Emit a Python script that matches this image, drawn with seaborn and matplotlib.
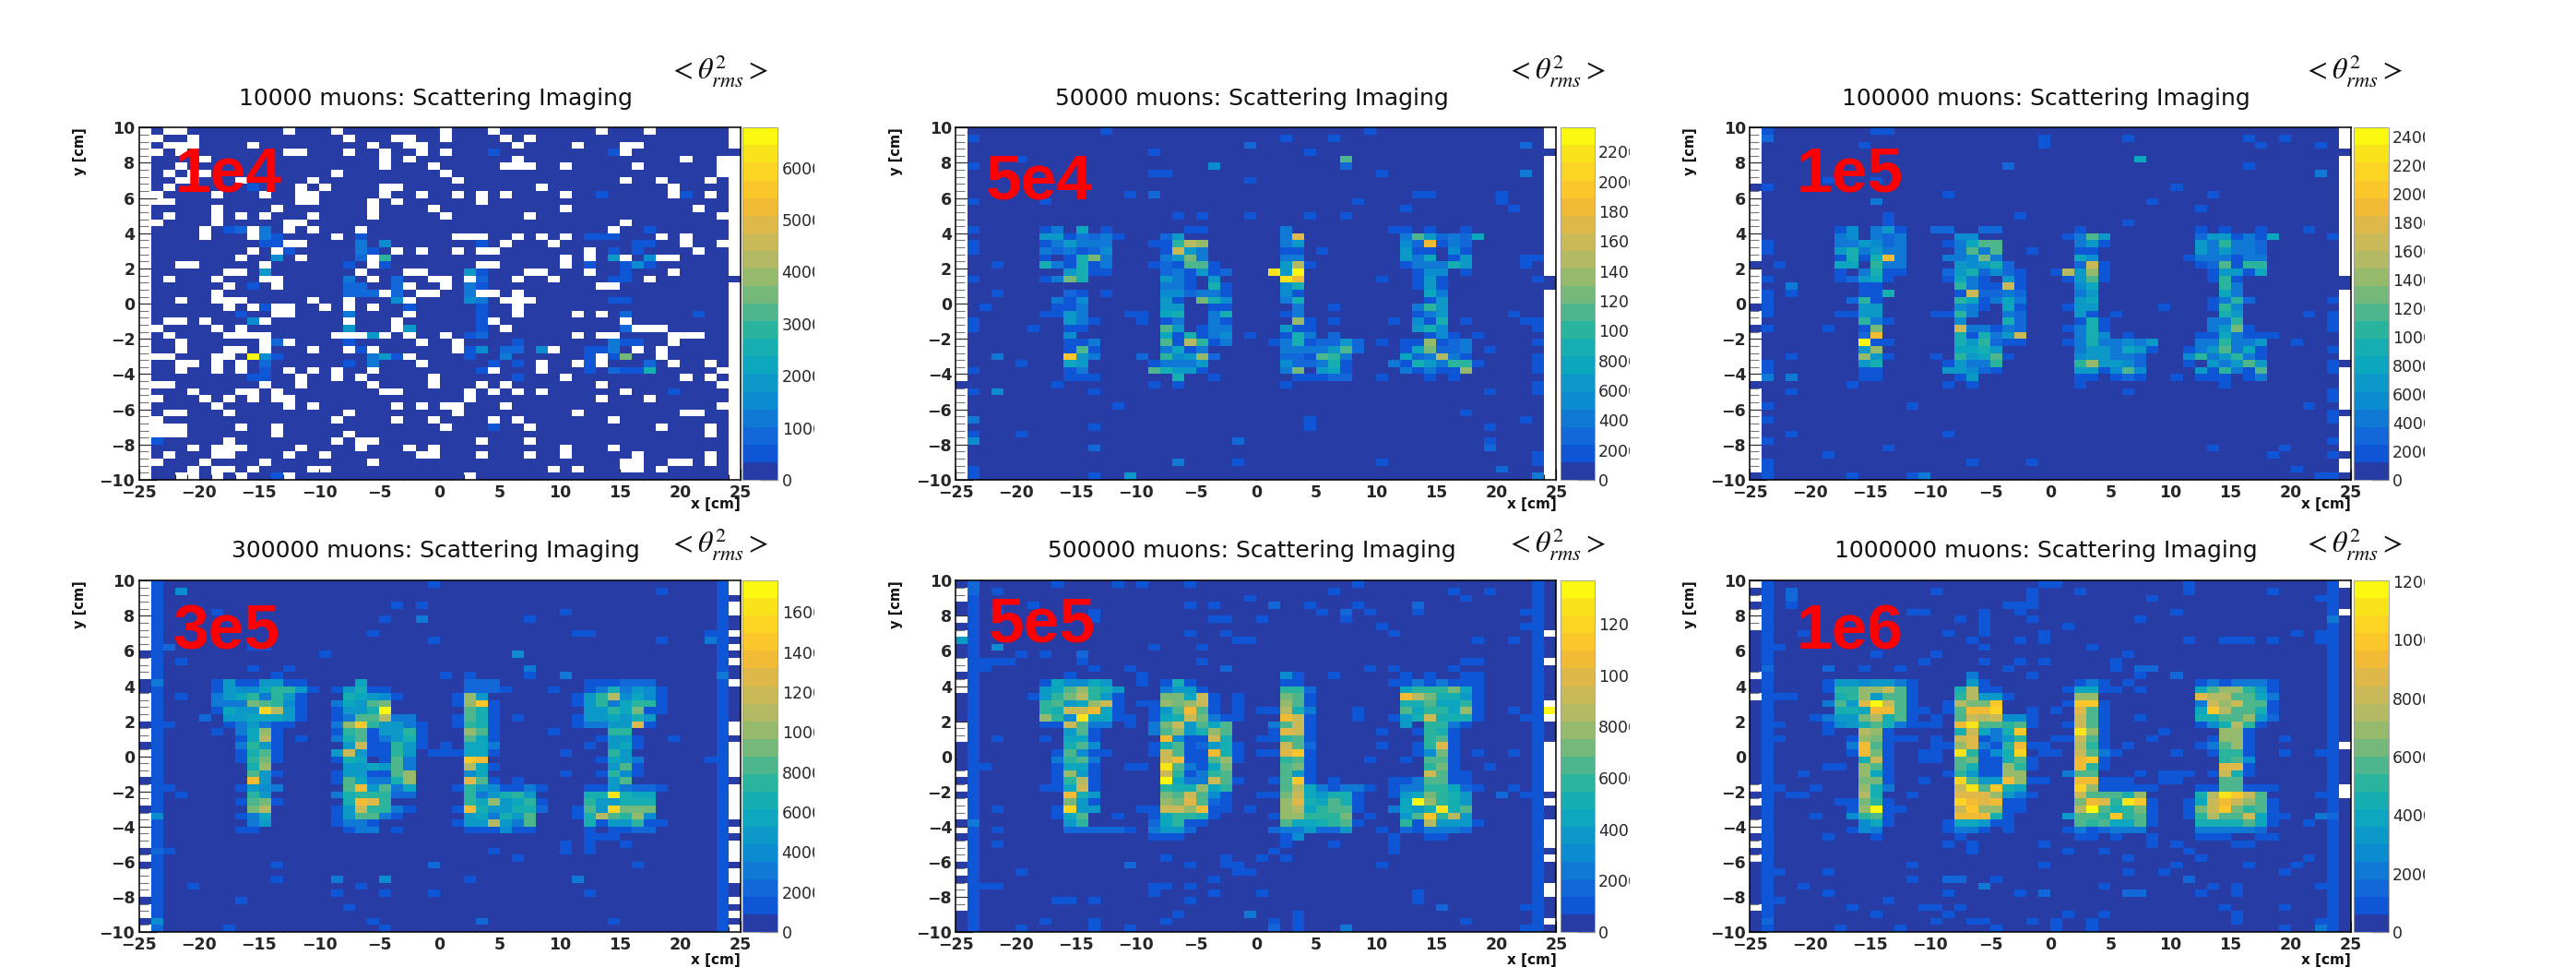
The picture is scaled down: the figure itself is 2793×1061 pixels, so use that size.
import numpy as np
import seaborn as sns
import matplotlib
matplotlib.use("Agg")
import matplotlib.pyplot as plt
from matplotlib.transforms import Bbox

W, H = 2793, 1061
NBINS = 50

# Colour bands, bottom to top
BANDS = ['#273ca4', '#0f56d6', '#1268d9', '#1079d6', '#0b8cd1', '#0c99c8', '#0ca6bf',
         '#16aeb0', '#2ab49d', '#4db68d', '#75b97a', '#96ba6b', '#b4ba63', '#c9b957',
         '#dfb84a', '#f2bb36', '#fcc72a', '#fcd423', '#f9e41c', '#faf80e']

TITLES = ['10000 muons: Scattering Imaging', '50000 muons: Scattering Imaging',
          '100000 muons: Scattering Imaging', '300000 muons: Scattering Imaging',
          '500000 muons: Scattering Imaging', '1000000 muons: Scattering Imaging']
TAGS = ['1e4', '5e4', '1e5', '3e5', '5e5', '1e6']
ZMAX = [6770, 23600, 24600, 17570, 13680, 12020]
CBAR_TICKS = [[0, 1000, 2000, 3000, 4000, 5000, 6000],
              [0, 2000, 4000, 6000, 8000, 10000, 12000, 14000, 16000, 18000, 20000, 22000],
              [0, 2000, 4000, 6000, 8000, 10000, 12000, 14000, 16000, 18000, 20000, 22000, 24000],
              [0, 2000, 4000, 6000, 8000, 10000, 12000, 14000, 16000],
              [0, 2000, 4000, 6000, 8000, 10000, 12000],
              [0, 2000, 4000, 6000, 8000, 10000, 12000]]
X_TICKS = [-25, -20, -15, -10, -5, 0, 5, 10, 15, 20, 25]
Y_TICKS = [-10, -8, -6, -4, -2, 0, 2, 4, 6, 8, 10]

# One string per row of bins, top to bottom: "column:codes", one code per bin from that column on.
# Code = colour band (0-9, a-j), "." = empty bin, bins not named are band 0.
ROWS_1E4 = [
    "2:.. 12:. 16:. 25:. 29:. 38:. 42:.", "1:. 4:. 17:. 21:.. 25:. 30:. 32:.",
    "2:... 9:. 19:. 22:.. 31:. 36:. 40:..", "1:. 3:. 12:.. 17:. 20:. 23:. 25:. 29:1 39:1 40:.",
    "5:. 20:. 22:. 31:. 45:. 48:.", "3:. 20:. 24:. 30:... 35:. 41:. 48:.",
    "2:. 4:.. 16:. 25:. 48:.", "3:.. 8:. 14:. 26:. 40:. 43:. 47:.",
    "2:. 9:1 13:. 15:. 20:.. 33:. 44:.", "1:. 6:. 10:. 13:.. 20:. 23:. 26:. 28:. 30:. 35:. 38:1 44:.1 47:.",
    "1:.. 13:.. 19:. 21:. 28:.", "6:. 11:. 19:. 24:. 35:. 46:.",
    "2:. 6:. 8:. 10:. 14:. 19:. 25:. 32:. 48:.", "1:. 6:. 12:.. 40:.",
    "5:. 7:12 9:.3 12:. 14:. 18:. 39:. 42:1", "5:. 9:.31 16:. 18:1 26:... 31:. 33:. 35:. 37:111 43:. 45:.",
    "10:11 12:.. 18:3 20:4 28:1 30:. 34:. 41:11 45:. 48:.", "9:. 11:.1 18:31 21:. 23:. 26:. 28:.. 37:. 39:1 41:1 46:.",
    "8:. 11:4 13:. 18:2 19:.8 35:. 37:. 39:5 40:. 42:4 43:..", "3:.. 10:. 17:1 19:.1 28:.. 35:. 37:1 40:141",
    "7:.. 10:5 18:. 22:.. 27:51 32:.. 37:. 40:1 44:.", "2:. 6:. 10:.. 17:3 19:. 21:2 24:.. 27:. 28:2 31:. 34:. 39:11 42:.",
    "7:. 9:1 11:. 17:22 21:2 22:. 25:. 27:31 38:..", "6:. 17:222 20:. 21:2 23:.. 27:3 28:.. 31:.",
    "3:. 6:... 14:. 17:. 21:4 22:. 27:43 30:... 39:11", "7:. 9:.1 11:.. 15:. 17:. 19:. 22:1 28:1 31:.",
    "8:1 11:.. 17:3 22:. 28:1 31:. 36:. 38:. 40:2 46:1", "2:.. 5:. 9:4 10:. 17:. 21:. 28:1 29:. 40:.",
    "1:. 6:. 8:. 17:5 21:.5 28:1 30:. 40:2 41:...", "2:. 7:.... 16:... 19:5 20:. 22:. 25:. 27:12 36:. 38:.. 44:...",
    "3:. 10:.2 12:. 17:1 23:. 26:. 31:1 39:311 44:.", "3:. 7:.. 10:. 14:. 17:.1 19:. 26:. 27:14 30:22 33:4 34:. 37:113 41:. 43:.",
    "1:.. 6:.. 9:j41 19:351 22:. 27:1 30:3 37:1 38:. 39:1a 43:.", "3:.. 6:. 8:. 10:2 17:1 19:3 23:. 29:1 31:1 33:. 36:.1 38:. 42:2 44:. 47:.",
    "3:. 6:. 8:. 10:1 12:. 14:. 16:. 19:. 28:1. 33:. 37:1 39:211 42:7 48:.", "9:11 13:. 16:. 18:. 24:. 31:1 35:. 45:. 47:.",
    "1:.. 10:. 13:. 19:. 24:. 28:. 30:. 38:. 48:.", "4:. 8:.. 11:. 20:.. 27:. 29:. 31:. 33:. 40:. 44:1",
    "1:. 5:. 7:. 9:. 11:.. 27:. 38:. 42:.", "6:. 12:. 14:. 21:. 23:. 25:.. 30:. 48:.",
    "2:.. 7:. 17:. 26:. 36:. 45:..", "1:. 16:. 21:. 24:. 29:. 31:. 39:.",
    "1:... 8:. 11:. 25:. 29:1 32:. 43:. 47:.", "1:... 11:. 17:. 47:.",
    "1:1 7:. 16:. 18:.. 28:. 32:.", "4:. 6:... 13:. 18:. 22:. 24:. 35:. 39:.",
    "2:. 6:.. 12:. 15:. 23:.. 28:. 32:. 35:. 41:. 47:.", "1:. 5:. 10:. 19:. 40:.. 44:.. 47:.",
    "4:. 6:.. 9:. 14:.. 34:. 36:. 40:.. 43:.", "3:.. 6:. 8:. 11:1 12:. 27:.",
]
ROWS_5E4 = [
    "12:1 34:1", "1:1 27:1 31:1", "24:2 47:2", "16:1 29:1", "5:1 32:9", "1:1 21:4 32:2",
    "16:11 35:1 47:3", "24:1", "", "14:1 16:2 38:11 45:1", "1:1 7:1 33:1 45:1", "37:1 46:1",
    "18:1 20:1 24:1 29:1 32:1", "",
    "1:1 7:13 10:6 12:1 19:11 27:3 36:11 39:1 42:1",
    "7:5513231 17:25 27:3e 37:3952326",
    "1:1 7:135333 16:118cb 27:35 37:42f132",
    "1:1 7:323124 17:1d53 27:11 30:1 37:511041",
    "7:1 9:17a3 17:35a3 27:33 37:536015 47:11",
    "3:1 7:731713 16:121991 27:5c1 37:133375 47:1",
    "9:5711 17:231512 26:i5j 38:14401",
    "1:1 7:13a7 17:53105 27:if 35:1 38:151 48:1",
    "17:331071 27:47 38:151",
    "3:1 9:21 12:1 17:442331 27:41 39:63",
    "8:314 17:510a74 27:37 39:15",
    "2:1 8:113 17:55 21:11 28:3 31:1 38:385",
    "7:1153 14:11 17:67 21:37 27:13 38:135 46:1",
    "1:1 9:531 15:1 17:13 21:31 28:b1 31:1 36:1 38:417 42:1 47:11",
    "1:1 6:1 9:11 17:95 20:133 27:511 38:574 48:1",
    "9:4 17:617134 24:1 27:173 31:2 39:141 43:1",
    "9:113 17:91c813 26:13712252 35:1 37:11b123 48:1",
    "9:191 17:3613 27:3333592 37:16a223 44:1",
    "3:3 9:g53 15:2 17:845b2 27:221983 37:623c31 48:1",
    "5:1 9:65 16:13335 27:422371 36:31753881 48:1",
    "1:1 9:13 16:97551 27:3a 30:561 37:31311b 48:1",
    "9:111 18:7 21:1 28:11122 35:1 39:1 41:1",
    "8:1 16:1 18:1 27:1 48:1", "1:1 3:4 11:1 44:1 48:1", "", "13:1", "42:1", "1:3 29:1 47:1",
    "11:1 29:1 44:1", "1:1 5:1", "1:4 23:2 44:1", "11:2 44:2", "48:1", "18:3 23:1 35:1 48:1",
    "1:1 45:2", "1:1 11:1 14:5 48:3",
]
ROWS_1E5 = [
    "1:1 10:11", "1:2 24:1 31:1 41:1 44:1", "9:1 24:1 42:1 47:1", "", "32:6", "21:2 41:1", "47:3",
    "6:1 10:1", "1:1 35:1", "16:1 38:1", "10:3 33:1", "37:1", "11:1 22:1", "11:1 31:1",
    "7:14 10:351 15:22 19:22 27:1 37:1 39:1 42:1 46:1",
    "7:34 10:323 17:44 26:1395 37:2551316 48:1",
    "1:1 7:335423 16:13699 27:351 37:538332",
    "1:1 7:573533 17:3939 23:1 27:11 37:535332",
    "7:1717f3 16:334a3 27:64 36:1333133",
    "2:1 7:66 10:833 17:54572 27:2d1 37:129188",
    "7:1 9:3711 16:2572421 25:1c5b1 38:15516",
    "1:1 7:12561 16:1631 21:51 26:1591 38:181",
    "3:3 9:11 17:83 19:11 21:d1 27:46 39:83",
    "1:1 3:1 9:117 17:1d2232 27:35 39:63",
    "1:1 8:281 17:861363 27:56 38:1382 48:1",
    "1:1 9:55 17:431 21:61 26:155 34:1 38:184",
    "1:1 7:1155 15:1183 21:32 27:51 30:1 39:75 46:1 48:1",
    "9:831 17:4 21:72 27:171 38:338 48:1",
    "1:1 6:1 9:1a 17:d33132 26:1371 38:35a1 48:1",
    "9:2f 17:71735d 27:374 31:1 37:1163111",
    "9:j11 17:758211 26:13733435 37:338335 45:1",
    "9:5b 17:6675 27:3553651 36:1359361 48:1",
    "3:1 9:b51 15:1 17:85691 27:455332 36:4835831",
    "1:1 9:57 16:15338 27:8b5542 36:1 38:53595 48:1",
    "1:1 9:11 16:55421 27:551494 37:518319 48:1",
    "1:3 3:3 9:11 17:15 27:11 30:121 35:1 37:111 41:13",
    "8:1 16:1 18:1 27:1 39:1", "3:1 31:1 48:1", "48:1", "1:1 13:1 46:1", "48:1", "1:1 48:1", "",
    "3:1 16:1", "1:1 48:1", "11:1 38:1 44:1", "6:1 43:1 48:1", "1:1 18:1 23:1", "1:1 45:1",
    "1:1 8:1 13:13 47:11",
]
ROWS_3E5 = [
    "24:1", "3:4 43:1", "", "21:1 23:1", "6:1 35:1", "20:1 23:3 32:1", "", "19:1 36:11 47:1",
    "24:1 43:1 47:3", "2:2 9:11", "15:1 31:4", "3:1", "9:1 12:1 32:3",
    "11:1 25:1 27:1 32:1 35:3 48:3",
    "1:3 6:1511 10:5511 18:6 27:222 37:111 40:222",
    "6:154468851 16:15711 27:2221 34:1 37:1373541",
    "3:1 6:35683851 17:76541 26:1b5 36:158c4641",
    "6:333a9841 16:3659a 26:1bg1 36:15836881",
    "6:1655hc51 16:1557j 27:971 37:5586a11",
    "5:2 7:5566651 16:1399c33 26:1971 31:1 36:1556575",
    "1:11 7:135311 16:3bg85531 26:1871 36:13355e1",
    "6:1 8:36b1 16:18915581 27:b91 34:1 39:88",
    "8:16c1 13:1 16:37913571 27:961 38:1551 44:1",
    "8:3851 17:5d11 21:851 25:1 27:663 37:1 39:561",
    "8:1791 16:5d51185 24:111 27:661 35:1 39:85",
    "8:18a1 16:176 20:193 27:gf 38:1653 47:1",
    "9:7b 17:556593 27:c61 39:591",
    "9:951 16:155119b 27:46 35:1 38:1841",
    "9:f5 16:196337b 27:e91 31:1 39:59",
    "1:11 8:1543 17:9f5936 26:18541131 37:1153221",
    "3:1 9:85 16:3788822 27:835785 37:77i766",
    "8:19a1 17:7fe8 27:86b5681 37:855777",
    "9:ac 16:15d8831 26:1f755772 36:195haaa",
    "1:4 8:136 16:159931 27:563759 36:17c98b4",
    "9:35 16:1331 26:155c539 37:7155811",
    "8:11 17:133 21:1 27:111411 37:1 39:1122",
    "37:111", "35:1 37:1 40:1", "1:21 29:1 35:1 37:1", "31:1", "11:1 24:2 41:1", "",
    "11:1 16:3 20:4 27:1 36:3", "4:1 18:1", "16:1 20:1 24:1 37:1", "8:1", "17:1", "",
    "1:4 19:1 28:2 39:1", "1:2 7:1 20:1",
]
ROWS_5E5 = [
    "1:2 8:1 13:1 15:1 19:1 33:1", "1:2 3:1 31:1 41:1 44:1", "24:1 42:1",
    "6:1 19:1 21:1 26:2 29:1 33:1 38:2", "3:1 11:1 30:1 32:2 34:1 38:1 47:1",
    "11:1 21:11 25:1 32:1", "35:1 47:1", "19:1 22:1 36:1", "0:5 23:11 43:1 46:1",
    "3:4 16:1 20:1", "5:1 7:1 10:2", "2:111 10:1 20:1 42:11",
    "2:1 11:1 14:1 22:2 34:1 36:1 41:1", "9:1 15:1 27:41 31:1 37:1 39:1 42:11",
    "7:164465 15:1 17:171 27:11 36:11 38:313111",
    "7:569b875 17:3551 27:882 37:6888a61",
    "6:158ac851 17:aa6d1 23:1 27:a91 37:fca7751",
    "7:8956bd1 15:11 17:babd1 23:1 27:b91 37:7796681",
    "7:87ddf61 16:159f91 23:1 25:11 27:c73 33:1 37:96886b1 46:1 49:j",
    "7:b84i661 14:1 16:167da311 27:fd1 33:1 36:157d7771 47:1",
    "7:11d933 14:1 16:3ad5969 26:39d1 37:5 39:8831",
    "9:591 16:39b57b9 26:1ed1 35:1 38:1871",
    "3:1 7:1 9:661 17:f4 19:11 21:d7 25:11 27:891 39:891",
    "9:794 16:17912571 27:d92 35:1 38:18e1",
    "8:19411 16:1d911f71 25:11 27:eg1 38:14a1 43:1 46:1",
    "8:3893 17:df119b1 27:891 34:1 37:1 39:991",
    "2:1 8:1661 14:11 17:i9316a 27:9a1 39:8a1 44:1",
    "8:1b51 17:d81389 27:951 39:d9 41:11",
    "8:18c1 17:j633d91 26:19g1 31:1 36:113 39:99 41:11",
    "7:116d1 17:877b68 27:9c631331 36:13388621 46:1",
    "9:f75 17:a9d941 25:11 27:ad65771 36:156a875 45:2 47:1",
    "9:a51 17:bae921 27:be76971 37:6jb875",
    "3:1 8:1h55 15:11 17:ddbf11 24:1 27:bc68991 36:3657i79",
    "8:169 13:1 16:168871 26:1bb888a 34:1 37:59g8c5",
    "1:3 9:58 16:26811 27:9667891 37:81c5551",
    "3:1 9:222221 16:3552 26:2335225 35:1 37:213332",
    "16:111 27:14 36:1 39:11", "3:1 27:1 31:1 36:1", "26:1 36:1", "17:1 22:1 25:1 27:1",
    "14:2 19:1 22:11 35:1", "5:1 23:11", "21:1", "2:11 16:11 19:1", "16:1 21:1 25:1 38:1",
    "8:11 11:1 19:1 38:1", "40:2 47:1", "18:1 24:3 28:1", "7:1 11:1 17:1 26:1 28:1 42:1",
    "5:1 11:1 14:1 26:2 28:1 32:3 47:1",
]
ROWS_1E6 = [
    "24:11 36:1", "3:2 15:1 23:1 27:1 36:1 43:1", "3:2 23:1 33:1 47:1", "3:1 21:111",
    "13:11 19:1 22:1 35:1", "17:1 19:1 23:1 32:1 48:3", "19:1 26:1", "4:1 16:1 19:1 24:1 45:1 47:1",
    "18:1 22:1 24:1 36:1 39:111 43:1 47:1", "2:1 19:1 28:1", "10:1 15:1 31:1",
    "14:1 19:1 22:1 24:1 30:1", "1:2 6:2 9:1 12:1 21:1 30:1 32:22", "18:3 23:1 32:1 35:2",
    "6:15545531 18:51 27:131 31:1 37:1313331",
    "6:188bbd91 17:7c11 26:16611 32:1 37:69bb851",
    "2:11 7:78b5991 17:8c551 27:bb 37:ecc9963",
    "6:395ejd91 16:1caag 26:1gg1 37:3dbd991",
    "7:776ff911 16:19ffh 23:1 25:1 27:e91 37:6gc9971",
    "5:1355ac791 15:1 17:9dcd441 27:d91 32:1 37:7799b52",
    "2:1 6:1457973111 17:fi99891 26:1d91 37:147c81",
    "6:1 9:cb1 17:7d637g 27:ib1 34:1 39:bb1",
    "2:1 8:1ba111 15:1 17:de1358 25:11 27:d91 33:1 38:1bb1 44:1",
    "8:3f91 15:11be318f11 27:c81 31:1 37:139b1",
    "8:1fa1 14:11 17:i8147h 24:11 27:d931 35:1 38:1881 44:1 47:1",
    "9:7d1 14:11 17:9a11791 27:fg1 39:894",
    "6:11 9:b91 17:9711b81 27:f81 39:ee1",
    "4:1 9:b61 16:18511bb 26:399 32:1 34:111 38:1d71",
    "9:aa1 14:1 17:h955fb11 27:ff111 34:11 39:99",
    "2:1 5:1 9:b73 17:di9g76 27:hb11111 37:1199111",
    "3:11 9:c7 13:1 17:eeeb531 27:d9997b 37:7cigd9 47:1",
    "7:11a81 17:hfef11 27:afe8ig1 36:16dfdb91",
    "8:1bj11 17:dgbb11 27:cj978a1 36:1adga891",
    "5:1 8:4891 17:fff71 26:5998g891 36:18c99d611 47:32",
    "9:461 16:166511 27:9896691 37:7777961 46:1",
    "8:143 16:1331 21:1 26:1312333 37:333332",
    "6:1 10:1 17:1 27:11 30:1 33:1 37:111 42:11", "16:1 18:1 24:1 33:1 35:1 40:11",
    "18:1 26:1 29:1 36:1", "31:1 37:1 46:1", "13:1 24:1 35:1 41:1 45:1", "2:1 6:1 31:1 34:1 44:1",
    "13:1 16:22 20:1 36:2", "4:1 19:3 29:1 38:1 40:1 47:1", "6:1 16:1 22:1 24:2 31:22 37:1 40:1",
    "1:11 11:1", "8:1 14:11 17:1 39:1 44:1", "10:1 16:1 26:1 29:1 40:1",
    "1:2 15:1 18:11 23:1 25:1 28:1 40:1 47:1", "7:1 12:1 20:1 25:1 28:1 44:1 47:3",
]
ROWS = [ROWS_1E4, ROWS_5E4, ROWS_1E5, ROWS_3E5, ROWS_5E5, ROWS_1E6]

ALL_ROWS = list(range(NBINS))
# Rows where the outermost columns hold no entry
LEFT_EMPTY = [ALL_ROWS,
              [r for r in ALL_ROWS if r not in [36]],
              [r for r in ALL_ROWS if r not in [8, 19, 25, 28, 36, 49]],
              [r for r in ALL_ROWS if r not in [10, 14, 15, 20, 23, 28, 32, 38, 40, 45, 48]],
              [1, 2, 5, 7, 11, 12, 14, 15, 20, 21, 22, 27, 29, 31, 32, 33, 35, 37, 38, 39, 41, 43, 44, 45, 46],
              [0, 2, 4, 5, 6, 13, 16, 29, 31, 34, 35, 37, 39, 46]]
RIGHT_EMPTY = [[r for r in ALL_ROWS if r not in [3, 21]],
               [r for r in ALL_ROWS if r not in [3, 21, 22]],
               [r for r in ALL_ROWS if r not in [3, 21, 22, 33, 40, 46, 49]],
               [0, 1, 3, 4, 7, 9, 11, 14, 20, 21, 23, 24, 25, 26, 27, 29, 30, 31, 32, 33, 35, 37, 38, 39,
                41, 42, 45, 47, 49],
               [7, 11, 17, 19, 23, 24, 25, 26, 27, 28, 29, 31, 34, 35, 36, 37, 39, 43, 44, 48],
               [0, 4, 23, 29, 30]]
# Columns next to the edges that sit one band above the background
LOW_COLS = [[], [], [], [1, 48], [1, 48], [1, 48]]


def decode(rows, left_empty, right_empty, low_cols, zmax):
    bands = np.zeros((NBINS, NBINS))
    bands[:, low_cols] = 1
    bands[left_empty, 0] = np.nan
    bands[right_empty, NBINS - 1] = np.nan
    for r, row in enumerate(rows):
        for run in row.split():
            col, codes = run.split(':')
            for i, ch in enumerate(codes):
                bands[r, int(col) + i] = np.nan if ch == '.' else int(ch, 36)
    return (bands + 0.5) / len(BANDS) * zmax


def minus(v):
    return str(v).replace('-', '\u2212')


def px_axes(fig, x0, y0, x1, y1):
    return fig.add_axes([x0 / W, 1 - y1 / H, (x1 - x0) / W, (y1 - y0) / H])


sns.set_style("white")
plt.rcParams['font.family'] = 'DejaVu Sans'
plt.rcParams['mathtext.fontset'] = 'stix'

cmap = sns.color_palette(BANDS, as_cmap=True)
fig = plt.figure(figsize=(W / 100, H / 100), dpi=100, facecolor='white')

# Panel frames in pixels
COL_X = [(150.5, 802.7, 805, 843.5), (1036.3, 1687.4, 1691.6, 1729), (1897.3, 2549, 2552, 2590)]
ROW_Y = [(138.3, 520), (629.3, 1010)]
TITLE_X = [472, 1357, 2218]
TITLE_Y = [107, 597]
SYMBOL_X = [779, 1687, 2551]
SYMBOL_Y = [76, 590]
TAG_POS = [(248, 208), (1127, 215), (2006, 208), (245, 703), (1130, 695), (2006, 703)]

for i in range(6):
    col, row = i % 3, i // 3
    x0, x1, cx0, cx1 = COL_X[col]
    y0, y1 = ROW_Y[row]
    ax = px_axes(fig, x0, y0, x1, y1)
    cax = px_axes(fig, cx0, y0, cx1, y1)
    grid = decode(ROWS[i], LEFT_EMPTY[i], RIGHT_EMPTY[i], LOW_COLS[i], ZMAX[i])
    sns.heatmap(grid, ax=ax, cbar_ax=cax, cmap=cmap, vmin=0, vmax=ZMAX[i], linewidths=0,
                xticklabels=False, yticklabels=False)

    ax.set_xticks([v + 25 for v in X_TICKS])
    ax.set_xticklabels([minus(v) for v in X_TICKS])
    ax.set_xticks(np.arange(0, 51, 1.0), minor=True)
    ax.set_yticks([(10 - v) / 0.4 for v in Y_TICKS])
    ax.set_yticklabels([minus(v) for v in Y_TICKS])
    ax.set_yticks(np.arange(0, 50.5, 1.0), minor=True)
    ax.tick_params(axis='x', which='major', direction='in', bottom=True, length=8.5, width=0.9,
                   color='#222222', labelsize=12.5, pad=3.5, labelrotation=0)
    ax.tick_params(axis='x', which='minor', direction='in', bottom=True, length=4.3, width=0.8, color='#222222')
    ax.tick_params(axis='y', which='major', direction='in', left=True, length=14, width=0.9,
                   color='#333333', labelsize=12.5, pad=3, labelrotation=0)
    ax.tick_params(axis='y', which='minor', direction='in', left=True, length=7, width=0.8, color='#777777')
    for t in ax.get_xticklabels() + ax.get_yticklabels():
        t.set_fontweight('bold')
    for spine in ax.spines.values():
        spine.set_visible(True)
        spine.set_color('black')
        spine.set_linewidth(1.1)

    cbar = ax.collections[0].colorbar
    cbar.set_ticks(CBAR_TICKS[i])
    cbar.set_ticklabels([str(v) for v in CBAR_TICKS[i]])
    cbar.outline.set_edgecolor('#999999')
    cbar.outline.set_linewidth(0.6)
    cax.tick_params(axis='y', which='major', direction='in', right=True, length=14, width=0.9,
                    color='#555555', labelsize=12.5, pad=3)
    clip = Bbox.from_extents(cx1, 0, x1 + 80, H)
    for t in cax.get_yticklabels():
        t.set_clip_on(True)
        t.set_clip_box(clip)

    fig.text(TITLE_X[col] / W, 1 - TITLE_Y[row] / H, TITLES[i], ha='center', va='center',
             fontsize=18, color='#111111')
    fig.text(SYMBOL_X[col] / W, 1 - SYMBOL_Y[row] / H, r'${<}\theta^{2}_{rms}{>}$', ha='center',
             va='center', fontsize=23, color='#111111')
    tx, ty = TAG_POS[i]
    fig.text(tx / W, 1 - ty / H, TAGS[i], ha='center', va='baseline', fontsize=50, color='#ff0000',
             family='Liberation Sans', fontweight='bold')
    fig.text((x0 - 64.5) / W, 1 - y0 / H, 'y [cm]', rotation=90, ha='center', va='top',
             fontsize=10.5, fontweight='bold', color='#111111')
    xlabel_y = 546 if row == 0 else 1040
    fig.text(x1 / W, 1 - xlabel_y / H, 'x [cm]', ha='right', va='center', fontsize=11,
             fontweight='bold', color='#111111')

fig.savefig('out.png', dpi=100)
